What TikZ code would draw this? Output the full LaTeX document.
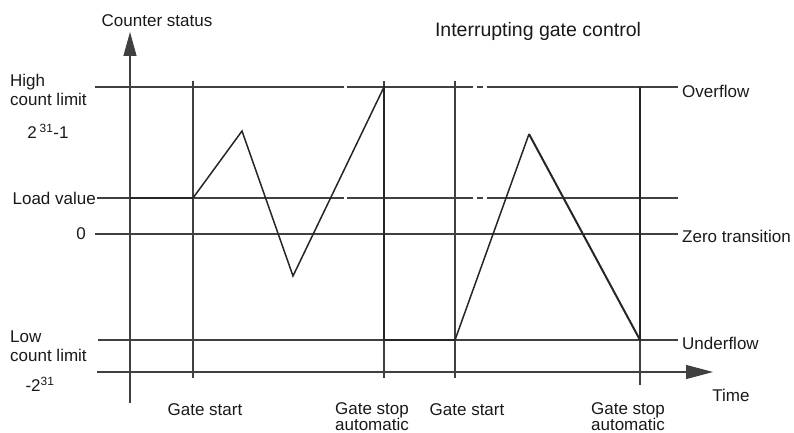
\documentclass[tikz,border=0pt]{standalone}
\usepackage{fontspec}
\setmainfont{Liberation Sans}
\usetikzlibrary{arrows.meta}
\tikzset{lbl/.style={font=\fontsize{17}{19}\selectfont, inner sep=0pt, align=center, text=black!90},
  grid/.style={line width=1.1pt, draw=black!75},
  count/.style={line width=1.5pt, draw=black!85, line join=miter},
  stop/.style={line width=2.8pt, draw=black!85}}
\begin{document}
\begin{tikzpicture}[x=1pt,y=-1pt]
\useasboundingbox (0,0) rectangle (794,433);
% axes
\draw[grid, -{Triangle[length=24pt,width=13pt]}] (130,403) -- (130,32);
\draw[grid, -{Triangle[length=27pt,width=14pt]}] (97,372) -- (713,372);
\node[lbl] (ylab) at (157,21) {Counter status};
\node[lbl, font=\fontsize{19.5}{22}\selectfont] (title) at (538,31) {Interrupting gate control};
\node[lbl] (tlab) at (731,395) {Time};
% levels
\draw[grid] (95,87) -- (344,87) (347,87) -- (473,87) (477,87) -- (483,87) (487,87) -- (678,87);
\draw[grid] (97,198) -- (344,198) (347,198) -- (473,198) (477,198) -- (483,198) (487,198) -- (678,198);
\draw[grid] (95,234) -- (678,234);
\draw[grid] (98,340) -- (678,340);
\node[lbl, align=left, anchor=west] (high) at (10,90) {High\\count limit};
\node[lbl] (max) at (48,131) {2\,\textsuperscript{31}-1};
\node[lbl, anchor=east] (load) at (96,198) {Load value};
\node[lbl] (zero) at (81,234) {0};
\node[lbl, align=left, anchor=west] (low) at (10,346) {Low\\count limit};
\node[lbl] (min) at (40,384) {-2\textsuperscript{31}};
\node[lbl, anchor=west] (over) at (682,91) {Overflow};
\node[lbl, anchor=west] (zt) at (682,236) {Zero transition};
\node[lbl, anchor=west] (under) at (682,343) {Underflow};
% gate events
\foreach \x/\b in {193/378, 384/378, 455/378}
  \draw[grid] (\x,81) -- (\x,\b);
\draw[grid] (640,88) -- (640,385);
\node[lbl] (start1) at (205,410) {Gate start};
\node[lbl, font=\fontsize{17}{16}\selectfont, anchor=north] (stop1) at (372,402) {Gate stop\\automatic};
\node[lbl] (start2) at (467,410) {Gate start};
\node[lbl, font=\fontsize{17}{16}\selectfont, anchor=north] (stop2) at (628,402) {Gate stop\\automatic};
% counter
\draw[stop] (130,198) -- (193,198);
\draw[count] (193,198) -- (242,131) -- (293,276) -- (384,87);
\draw[stop] (384,86) -- (384,340) -- (455,340);
\draw[count] (455,340) -- (529,134);
\draw[count, line width=2pt] (529,134) -- (640,340);
\draw[stop] (640,341) -- (640,87);
\end{tikzpicture}
\end{document}
